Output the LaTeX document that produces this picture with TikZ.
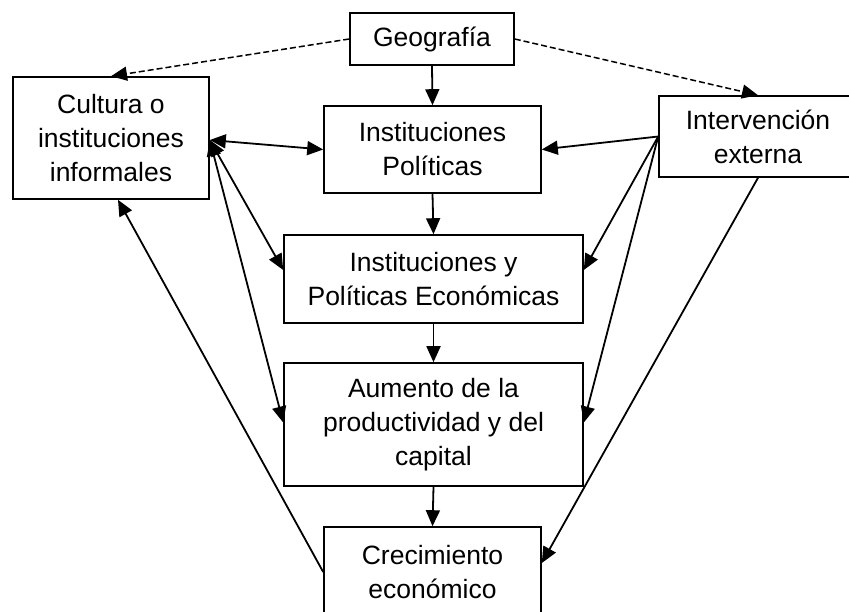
\documentclass[tikz,border=0pt]{standalone}
\usepackage{fontspec}
\setmainfont{Liberation Sans}
\usetikzlibrary{arrows.meta,calc}
\begin{document}
\begin{tikzpicture}[x=1pt,y=-1pt,
  box/.style={draw,line width=1.6pt,inner sep=2pt,align=center,
    font=\fontsize{26.5}{34}\selectfont},
  arr/.style={line width=1.8pt,-{Triangle[length=16pt,width=14pt]}},
  arrtwo/.style={line width=1.8pt,{Triangle[length=16pt,width=14pt]}-{Triangle[length=16pt,width=14pt]}},
  dasharr/.style={line width=1.5pt,dash pattern=on 6pt off 3pt,-{Triangle[length=16pt,width=14pt]}}]
\useasboundingbox (0,0) rectangle (849,611);
\fill[white] (0,0) rectangle (849,611);
\clip (0,0) rectangle (849,611);
\node[box,minimum width=164pt,minimum height=52pt] (geo) at (432,39) {Geografía};
\node[box,minimum width=196pt,minimum height=122pt] (cult) at (111,138) {Cultura o\\instituciones\\informales};
\node[box,minimum width=217pt,minimum height=87pt] (pol) at (432.5,149.5) {Instituciones\\Políticas};
\node[box,minimum width=198pt,minimum height=81pt] (inter) at (758,136.5) {Intervención\\externa};
\node[box,minimum width=299pt,minimum height=88pt] (econ) at (433.5,279) {Instituciones y\\Políticas Económicas};
\node[box,minimum width=299pt,minimum height=123pt] (aum) at (433.5,424.5) {Aumento de la\\productividad y del\\capital};
\node[box,minimum width=217pt,minimum height=90pt] (crec) at (432.5,572) {Crecimiento\\económico};
% Geografía
\draw[arr] (geo.south) -- (pol.north);
\draw[dasharr] (geo.west) -- (cult.north);
\draw[dasharr] (geo.east) -- (inter.north);
% Cultura
\draw[arrtwo] ($(cult.east)+(0,2)$) -- (pol.west);
\draw[arrtwo] ($(cult.east)+(0,2)$) -- ($(econ.west)+(0,-9)$);
\draw[arrtwo] ($(cult.east)+(0,2)$) -- ($(aum.west)+(0,-2)$);
% Intervención
\draw[arr] (inter.west) -- (pol.east);
\draw[arr] (inter.west) -- ($(econ.east)+(0,-9)$);
\draw[arr] (inter.west) -- ($(aum.east)+(0,-2)$);
\draw[arr] (inter.south) -- ($(crec.east)+(0,-9)$);
% chain
\draw[arr] (pol.south) -- (econ.north);
\draw[arr] (econ.south) -- (aum.north);
\draw[arr] (aum.south) -- (crec.north);
% feedback
\draw[arr] (crec.west) -- ($(cult.south)+(7,0)$);
\end{tikzpicture}
\end{document}
